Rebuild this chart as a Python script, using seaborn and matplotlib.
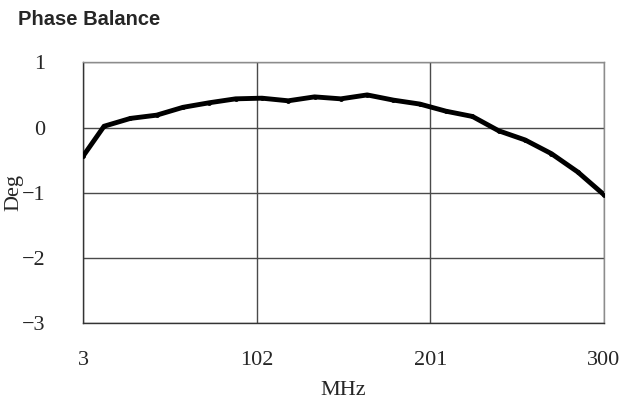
import numpy as np
import pandas as pd
import matplotlib
matplotlib.use("Agg")
import matplotlib.pyplot as plt
import seaborn as sns

# Dados
freq_mhz = [3, 15, 30, 45, 60, 75, 90, 105, 120, 135, 150, 165, 180,
            195, 210, 225, 240, 255, 270, 285, 300]
phase_deg = [-0.44, 0.02, 0.14, 0.19, 0.31, 0.38, 0.44, 0.45, 0.41, 0.47,
             0.44, 0.50, 0.42, 0.36, 0.25, 0.17, -0.05, -0.19, -0.40, -0.68, -1.03]
x_ticks = [3, 102, 201, 300]
y_ticks = [1, 0, -1, -2, -3]

df = pd.DataFrame({"MHz": freq_mhz, "Deg": phase_deg})

sns.set_style("white")
plt.rcParams["font.family"] = ["Liberation Serif", "DejaVu Serif"]

fig = plt.figure(figsize=(6.25, 4.09), dpi=100)
ax = fig.add_axes([0.1328, 0.2095, 0.8336, 0.6382])

sns.lineplot(data=df, x="MHz", y="Deg", ax=ax, color="black", linewidth=3.5,
             marker="o", markersize=3.5, markeredgewidth=0, zorder=3)

ax.set_xlim(3, 300)
ax.set_ylim(-3, 1)
ax.set_xticks(x_ticks)
ax.set_yticks(y_ticks)
ax.set_xticklabels([str(v) for v in x_ticks], fontsize=16)
ax.set_yticklabels([("\u2212%d" % -v if v < 0 else str(v)) for v in y_ticks],
                   fontsize=16)
ax.tick_params(axis="x", length=0, pad=20)
ax.tick_params(axis="y", length=3, width=1, color="#444444", direction="in", pad=27)

ax.grid(True, color="#4a4a4a", linewidth=1)
ax.set_axisbelow(True)
for side in ["top", "right"]:
    ax.spines[side].set_color("#8c8c8c")
for side in ["left", "bottom"]:
    ax.spines[side].set_color("#333333")
for s in ax.spines.values():
    s.set_linewidth(1)

ax.set_xlabel("MHz", fontsize=16, va="center")
ax.set_ylabel("Deg", fontsize=16, va="center")
ax.xaxis.set_label_coords(0.5, -0.256)
ax.yaxis.set_label_coords(-0.132, 0.5)

fig.text(18 / 625, 1 - 25 / 409, "Phase Balance", fontsize=14.5, fontweight="bold",
         family="Liberation Sans", va="baseline", ha="left")

fig.savefig("out.png", dpi=100)
